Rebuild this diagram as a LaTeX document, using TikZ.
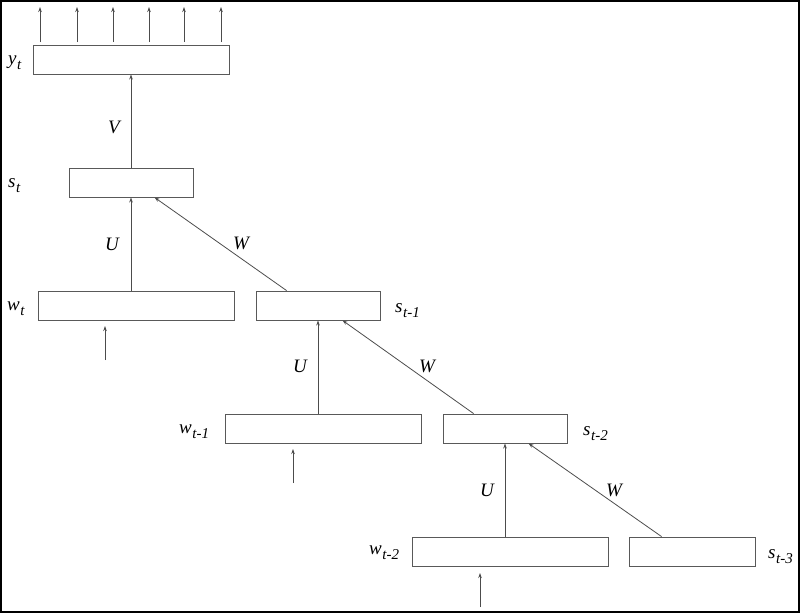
\documentclass[tikz,border=0pt]{standalone}
\usepackage{fontspec}
\setmainfont{Liberation Serif}
\usetikzlibrary{calc,arrows.meta}
\newcommand{\lbl}[2]{\textit{#1}\kern0.5pt\raisebox{-5pt}{\fontsize{15}{15}\selectfont\itshape #2}}
\tikzset{
  box/.style={draw=black!65, line width=0.9pt, rectangle, inner sep=0pt, minimum height=29pt},
  conn/.style={draw=black!70, line width=0.8pt, -{Stealth[length=5pt,width=3.5pt]}},
  lab/.style={font=\fontsize{19}{19}\selectfont, inner sep=0pt, anchor=base west},
  wlab/.style={font=\fontsize{19}{19}\selectfont\itshape, inner sep=0pt}
}
\begin{document}
\begin{tikzpicture}[x=1pt,y=-1pt]
\useasboundingbox (0,0) rectangle (800,613);
\draw[line width=2pt] (1,1) rectangle (799,612);
% boxes
\node[box, minimum width=196pt] (yt) at (131,59.5) {};
\node[box, minimum width=124pt] (st) at (131,182.5) {};
\node[box, minimum width=196pt] (wt) at (136,305.5) {};
\node[box, minimum width=124pt] (s1) at (318,305.5) {};
\node[box, minimum width=196pt] (w1) at (323,428.5) {};
\node[box, minimum width=124pt] (s2) at (505,428.5) {};
\node[box, minimum width=196pt] (w2) at (510,551.5) {};
\node[box, minimum width=126pt] (s3) at (692,551.5) {};
% labels
\node[lab] (lyt) at (8,64) {\lbl{y}{t}};
\node[lab] (lst) at (8,187) {\lbl{s}{t}};
\node[lab] (lwt) at (7,310) {\lbl{w}{t}};
\node[lab] (ls1) at (395,312) {\lbl{s}{t-1}};
\node[lab] (lw1) at (179,433) {\lbl{w}{t-1}};
\node[lab] (ls2) at (583,435) {\lbl{s}{t-2}};
\node[lab] (lw2) at (369,554) {\lbl{w}{t-2}};
\node[lab] (ls3) at (768,558) {\lbl{s}{t-3}};
\node[wlab] (lV) at (114,127) {V};
\node[wlab] (lU0) at (112,244) {U};
\node[wlab] (lW0) at (241,243) {W};
\node[wlab] (lU1) at (300,366) {U};
\node[wlab] (lW1) at (427,366) {W};
\node[wlab] (lU2) at (487,490) {U};
\node[wlab] (lW2) at (614,490) {W};
% output arrows
\foreach \x/\n in {40/a,77/b,113/c,149/d,184/e,221/f}{
  \coordinate (ob\n) at (\x,42);
  \coordinate (ot\n) at (\x,7);
  \draw[conn] (ob\n) -- (ot\n);
}
% V
\draw[conn] (st.north) -- (yt.south);
% U arrows
\draw[conn] (st.south |- wt.north) -- (st.south);
\draw[conn] (s1.south |- w1.north) -- (s1.south);
\draw[conn] (s2.south |- w2.north) -- (s2.south);
% W arrows
\draw[conn] ($(s1.north west)+(31,0)$) -- ($(st.south west)+(86,0)$);
\draw[conn] ($(s2.north west)+(31,0)$) -- ($(s1.south west)+(87,0)$);
\draw[conn] ($(s3.north west)+(33,0)$) -- ($(s2.south west)+(86,0)$);
% input arrows
\coordinate (i0b) at (105,360); \coordinate (i0t) at (105,326);
\coordinate (i1b) at (293,483); \coordinate (i1t) at (293,449);
\coordinate (i2b) at (480,607); \coordinate (i2t) at (480,573);
\draw[conn] (i0b) -- (i0t);
\draw[conn] (i1b) -- (i1t);
\draw[conn] (i2b) -- (i2t);
\end{tikzpicture}
\end{document}
